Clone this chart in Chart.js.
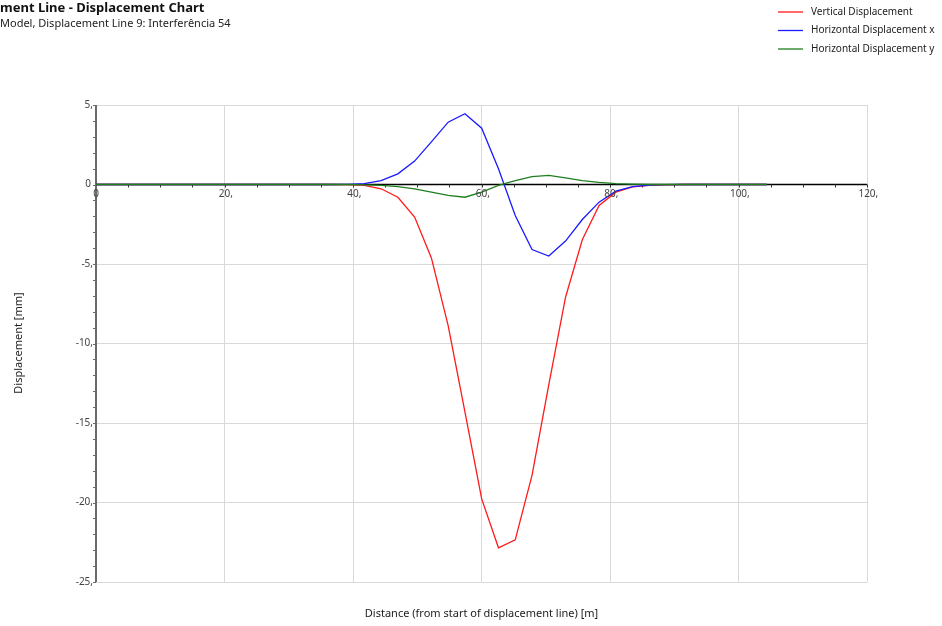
<!DOCTYPE html>
<html>
<head>
<meta charset="utf-8">
<script src="https://cdn.jsdelivr.net/npm/chart.js@4"></script>
<style>
  html, body { margin: 0; padding: 0; background: #fff; }
  #wrap { width: 942px; height: 626px; position: relative; }
</style>
</head>
<body>
<div id="wrap"><canvas id="chart" width="942" height="626"></canvas></div>
<script>
// distance along the displacement line [m]
const distances = [0, 2.61, 5.22, 7.83, 10.44, 13.05, 15.66, 18.27, 20.88, 23.49, 26.1, 28.71, 31.32, 33.93, 36.54, 39.15,
  41.76, 44.37, 46.98, 49.59, 52.2, 54.81, 57.42, 60.03, 62.64, 65.25, 67.86, 70.47, 73.08, 75.69, 78.3, 80.91,
  83.52, 86.13, 88.74, 91.35, 93.96, 96.57, 99.18, 101.79, 104.4];

const verticalDisp = [0, 0, 0, 0, 0, 0, 0, 0, 0, 0, 0, 0, 0, 0, 0, -0.01,
  -0.06, -0.27, -0.8, -2.05, -4.62, -8.87, -14.3, -19.77, -22.85, -22.35, -18.3, -12.6, -7.09, -3.48, -1.32, -0.48,
  -0.15, -0.05, -0.02, 0, 0, 0, 0, 0, 0];

const horizontalDispX = [0, 0, 0, 0, 0, 0, 0, 0, 0, 0, 0, 0, 0, 0, 0, 0.01,
  0.06, 0.25, 0.67, 1.47, 2.68, 3.92, 4.45, 3.54, 0.99, -1.95, -4.09, -4.5, -3.56, -2.2, -1.11, -0.42,
  -0.13, -0.04, -0.01, 0, 0, 0, 0, 0, 0];

const horizontalDispY = [0, 0, 0, 0, 0, 0, 0, 0, 0, 0, 0, 0, 0, 0, 0, 0,
  -0.02, -0.06, -0.13, -0.27, -0.48, -0.69, -0.8, -0.48, -0.06, 0.25, 0.5, 0.57, 0.42, 0.25, 0.13, 0.05,
  0.02, 0, 0, 0, 0, 0, 0, 0, 0];

const seriesNames = ['Vertical Displacement', 'Horizontal Displacement x', 'Horizontal Displacement y'];
const seriesColors = ['#ff1a1a', '#1a1aff', '#1f7f1f'];
const xTickLabels = ['0', '20,', '40,', '60,', '80,', '100,', '120,'];
const yTickLabels = ['5,', '0', '-5,', '-10,', '-15,', '-20,', '-25,'];

const titleText = 'ment Line - Displacement Chart';
const subtitleText = 'Model, Displacement Line 9: Interferência 54';
const xTitle = 'Distance (from start of displacement line) [m]';
const yTitle = 'Displacement [mm]';

const FONT = '"Noto Sans", "Open Sans", sans-serif';

function toPoints(vals) {
  return distances.map((d, i) => ({ x: d, y: vals[i] }));
}

// 轴线和刻度画在曲线下面
const axisPlugin = {
  id: 'axes',
  beforeDatasetsDraw(chart) {
    const ctx = chart.ctx;
    const xs = chart.scales.x, ys = chart.scales.y;
    const area = chart.chartArea;
    const y0 = ys.getPixelForValue(0);
    ctx.save();

    ctx.strokeStyle = '#6a6a6a';
    ctx.lineWidth = 2;
    ctx.beginPath();
    ctx.moveTo(area.left, area.top);
    ctx.lineTo(area.left, area.bottom);
    ctx.stroke();
    ctx.lineWidth = 1;
    for (let v = -25; v <= 5; v++) {
      const py = Math.round(ys.getPixelForValue(v)) + 0.5;
      ctx.beginPath();
      ctx.moveTo(area.left - 3, py);
      ctx.lineTo(area.left, py);
      ctx.stroke();
    }

    ctx.strokeStyle = '#000';
    ctx.lineWidth = 1.5;
    ctx.beginPath();
    ctx.moveTo(area.left, y0);
    ctx.lineTo(area.right, y0);
    ctx.stroke();
    ctx.lineWidth = 1;
    ctx.strokeStyle = '#333';
    for (let v = 5; v <= 120; v += 5) {
      const px = Math.round(xs.getPixelForValue(v)) + 0.5;
      ctx.beginPath();
      ctx.moveTo(px, y0);
      ctx.lineTo(px, y0 + 3);
      ctx.stroke();
    }
    ctx.restore();
  }
};

// 文字：刻度标签、轴标题、图表标题、图例
const textPlugin = {
  id: 'texts',
  afterDraw(chart) {
    const ctx = chart.ctx;
    const xs = chart.scales.x, ys = chart.scales.y;
    const area = chart.chartArea;
    const y0 = ys.getPixelForValue(0);
    ctx.save();

    ctx.fillStyle = '#444';
    ctx.font = '10px ' + FONT;
    ctx.textBaseline = 'middle';
    ctx.textAlign = 'right';
    yTickLabels.forEach((lab, i) => {
      const v = 5 - i * 5;
      const py = ys.getPixelForValue(v);
      ctx.fillText(lab, lab === '0' ? area.left - 5 : area.left - 3, py);
    });
    ctx.textAlign = 'left';
    ctx.textBaseline = 'top';
    xTickLabels.forEach((lab, i) => {
      const v = i * 20;
      const px = xs.getPixelForValue(v);
      const num = lab.replace(',', '');
      const w = ctx.measureText(num).width;
      ctx.fillText(lab, px - w / 2, y0 + 5);
    });

    ctx.fillStyle = '#222';
    ctx.font = '11px ' + FONT;
    ctx.textAlign = 'center';
    ctx.textBaseline = 'middle';
    ctx.fillText(xTitle, (area.left + area.right) / 2, 614);
    ctx.save();
    ctx.translate(19, 343);
    ctx.rotate(-Math.PI / 2);
    ctx.fillText(yTitle, 0, 0);
    ctx.restore();

    ctx.textAlign = 'left';
    ctx.fillStyle = '#111';
    ctx.font = 'bold 13px ' + FONT;
    ctx.fillText(titleText, 0, 8);
    ctx.font = '11px ' + FONT;
    ctx.fillStyle = '#222';
    ctx.fillText(subtitleText, 0, 24);

    ctx.font = '10px ' + FONT;
    ctx.fillStyle = '#222';
    seriesNames.forEach((name, i) => {
      const ly = 12 + i * 18.5;
      ctx.strokeStyle = seriesColors[i];
      ctx.lineWidth = 1.3;
      ctx.beginPath();
      ctx.moveTo(778, ly);
      ctx.lineTo(803, ly);
      ctx.stroke();
      ctx.fillText(name, 811, ly);
    });

    ctx.restore();
  }
};

new Chart(document.getElementById('chart'), {
  type: 'line',
  data: {
    datasets: seriesNames.map((name, i) => ({
      label: name,
      data: toPoints([verticalDisp, horizontalDispX, horizontalDispY][i]),
      borderColor: seriesColors[i],
      borderWidth: 1.3,
      pointRadius: 0,
      tension: 0,
      fill: false,
      order: 2 - i
    }))
  },
  options: {
    responsive: false,
    animation: false,
    devicePixelRatio: 1,
    layout: { padding: { left: 96, top: 105, right: 75, bottom: 44 } },
    plugins: { legend: { display: false }, tooltip: { enabled: false } },
    scales: {
      x: {
        type: 'linear', min: 0, max: 120,
        ticks: { display: false, stepSize: 20 },
        grid: { color: '#d9d9d9', drawTicks: false },
        border: { display: false }
      },
      y: {
        type: 'linear', min: -25, max: 5,
        ticks: { display: false, stepSize: 5 },
        grid: { color: '#d9d9d9', drawTicks: false },
        border: { display: false }
      }
    }
  },
  plugins: [axisPlugin, textPlugin]
});
</script>
</body>
</html>
